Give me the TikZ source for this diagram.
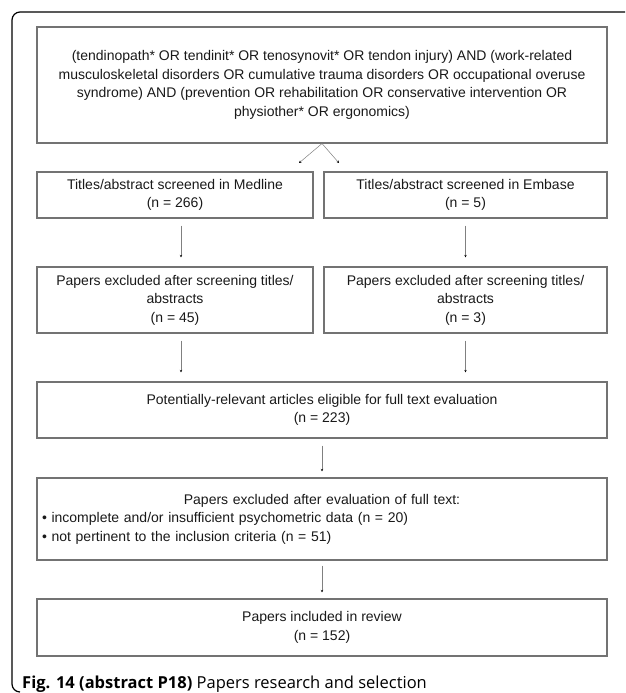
\documentclass[tikz,border=0pt]{standalone}
\usepackage{fontspec}
\setmainfont{Liberation Sans}
\newfontfamily\capfont{Open Sans}
\usepackage{tikz}
\usetikzlibrary{positioning,arrows.meta}
\tikzset{
    box/.style={draw=black!55, line width=1.1pt, align=center, inner sep=2pt,
        font=\fontsize{14}{18.5}\selectfont, text=black!90},
    arr/.style={draw=black!50, line width=0.5pt, -{Stealth[length=2.5pt,width=2.5pt,black]}},
    frame/.style={draw=black, line width=1.2pt, rounded corners=8pt}
}
\begin{document}
\begin{tikzpicture}[x=1pt,y=-1pt]
    \useasboundingbox (0,0) rectangle (625,693);
    \draw[frame] (625,12) -- (12,12) -- (12,692) -- (20,692);
    \node[box, minimum width=570, minimum height=116] (query) at (322,85)
        {(tendinopath* OR tendinit* OR tenosynovit* OR tendon injury) AND (work-related\\
        musculoskeletal disorders OR cumulative trauma disorders OR occupational overuse\\
        syndrome) AND (prevention OR rehabilitation OR conservative intervention OR\\
        physiother* OR ergonomics)};
    \node[box, minimum width=276, minimum height=46] (medline) at (175,195)
        {Titles/abstract screened in Medline\\(n = 266)};
    \node[box, minimum width=283, minimum height=46] (embase) at (465.5,195)
        {Titles/abstract screened in Embase\\(n = 5)};
    \node[box, minimum width=276, minimum height=66] (exmedline) at (175,300)
        {Papers excluded after screening titles/\\abstracts\\(n = 45)};
    \node[box, minimum width=283, minimum height=66] (exembase) at (465.5,300)
        {Papers excluded after screening titles/\\abstracts\\(n = 3)};
    \node[box, minimum width=570, minimum height=56] (eligible) at (322,410)
        {Potentially-relevant articles eligible for full text evaluation\\(n = 223)};
    \node[box, minimum width=570, minimum height=82, align=left, text width=560] (exfull) at (322,519)
        {\centering Papers excluded after evaluation of full text:\par
        \raggedright
        \textbullet\ incomplete and/or insufficient psychometric data (n = 20)\\
        \textbullet\ not pertinent to the inclusion criteria (n = 51)};
    \node[box, minimum width=570, minimum height=57] (included) at (322,627.5)
        {Papers included in review\\(n = 152)};
    \coordinate (mltip) at (299,163);
    \coordinate (emtip) at (339,163);
    \draw[arr] (query.south) -- (mltip);
    \draw[arr] (query.south) -- (emtip);
    \draw[arr, shorten <=7pt, shorten >=9pt] ([xshift=6pt]medline.south) -- ([xshift=6pt]exmedline.north);
    \draw[arr, shorten <=7pt, shorten >=9pt] (embase.south) -- (exembase.north);
    \draw[arr, shorten <=7pt, shorten >=9pt] ([xshift=6pt]exmedline.south) -- ([xshift=6pt]exmedline.south |- eligible.north);
    \draw[arr, shorten <=7pt, shorten >=9pt] (exembase.south) -- (exembase.south |- eligible.north);
    \draw[arr, shorten <=7pt, shorten >=6pt] (eligible.south) -- (exfull.north);
    \draw[arr, shorten <=5pt, shorten >=6pt] (exfull.south) -- (included.north);
    \node[anchor=base west, inner sep=0pt, font=\capfont\fontsize{16.5}{19}\selectfont] (caption) at (22,688)
        {\textbf{Fig. 14 (abstract P18)} Papers research and selection};
\end{tikzpicture}
\end{document}
